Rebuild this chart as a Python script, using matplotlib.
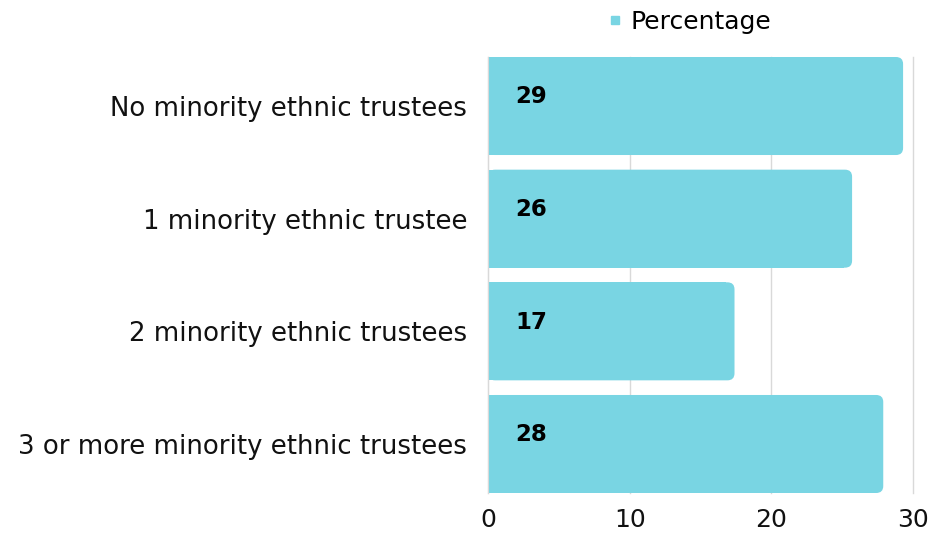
import matplotlib.pyplot as plt
from matplotlib.patches import FancyBboxPatch, Rectangle

categories = ["No minority ethnic trustees", "1 minority ethnic trustee",
              "2 minority ethnic trustees", "3 or more minority ethnic trustees"]
percentages = [29.3, 25.7, 17.4, 27.9]
xticks = [0, 10, 20, 30]

bar_color = "#79d5e3"
plt.rcParams['font.family'] = ['DejaVu Sans']

fig = plt.figure(figsize=(9.49, 5.37), dpi=100)
ax = fig.add_axes([488 / 949, 1 - 493 / 537, (913 - 488) / 949, (493 - 57) / 537])

pos = list(range(len(categories)))
h = 0.87
bars = ax.barh(pos, percentages, height=h, color=bar_color, label="Percentage")

# swap plain bars for ones rounded on the right end
for b in bars:
    x, y = b.get_x(), b.get_y()
    w, bh = b.get_width(), b.get_height()
    b.set_visible(False)
    ax.add_patch(FancyBboxPatch((x, y), w, bh,
                                boxstyle="round,pad=0,rounding_size=0.5",
                                mutation_aspect=0.124, fc=bar_color, ec="none", zorder=2))
    ax.add_patch(Rectangle((x, y), w - 0.6, bh, fc=bar_color, ec="none",
                           antialiased=False, zorder=2))

for p, v in zip(pos, percentages):
    ax.text(3.05, p - 0.08, f"{v:.0f}", ha="center", va="center",
            fontsize=16.5, fontweight="bold", color="black", zorder=3)

ax.set_xlim(0, 30)
ax.set_ylim(len(categories) - 1 + h / 2, -h / 2)
ax.set_xticks(xticks)
ax.set_yticks(pos)
ax.set_yticklabels(categories, fontsize=18.7, color="#111111")
ax.tick_params(axis='x', labelsize=18, labelcolor="#111111", length=0, pad=11)
ax.tick_params(axis='y', length=0, pad=15)
ax.xaxis.grid(True, color="#d9d9d9", linewidth=1, zorder=0)
for gl in ax.get_xgridlines():
    gl.set_clip_on(False)
ax.set_axisbelow(True)
for s in ["top", "right", "bottom"]:
    ax.spines[s].set_visible(False)
ax.spines["left"].set_color("#d9d9d9")

handle = plt.Line2D([], [], marker="s", color=bar_color, linestyle="none", markersize=6)
fig.legend([handle], ["Percentage"], loc="center", bbox_to_anchor=(688 / 949, 1 - 22 / 537),
           frameon=False, fontsize=18, handletextpad=0.2, handlelength=0.8)

fig.savefig("out.png", dpi=100)
